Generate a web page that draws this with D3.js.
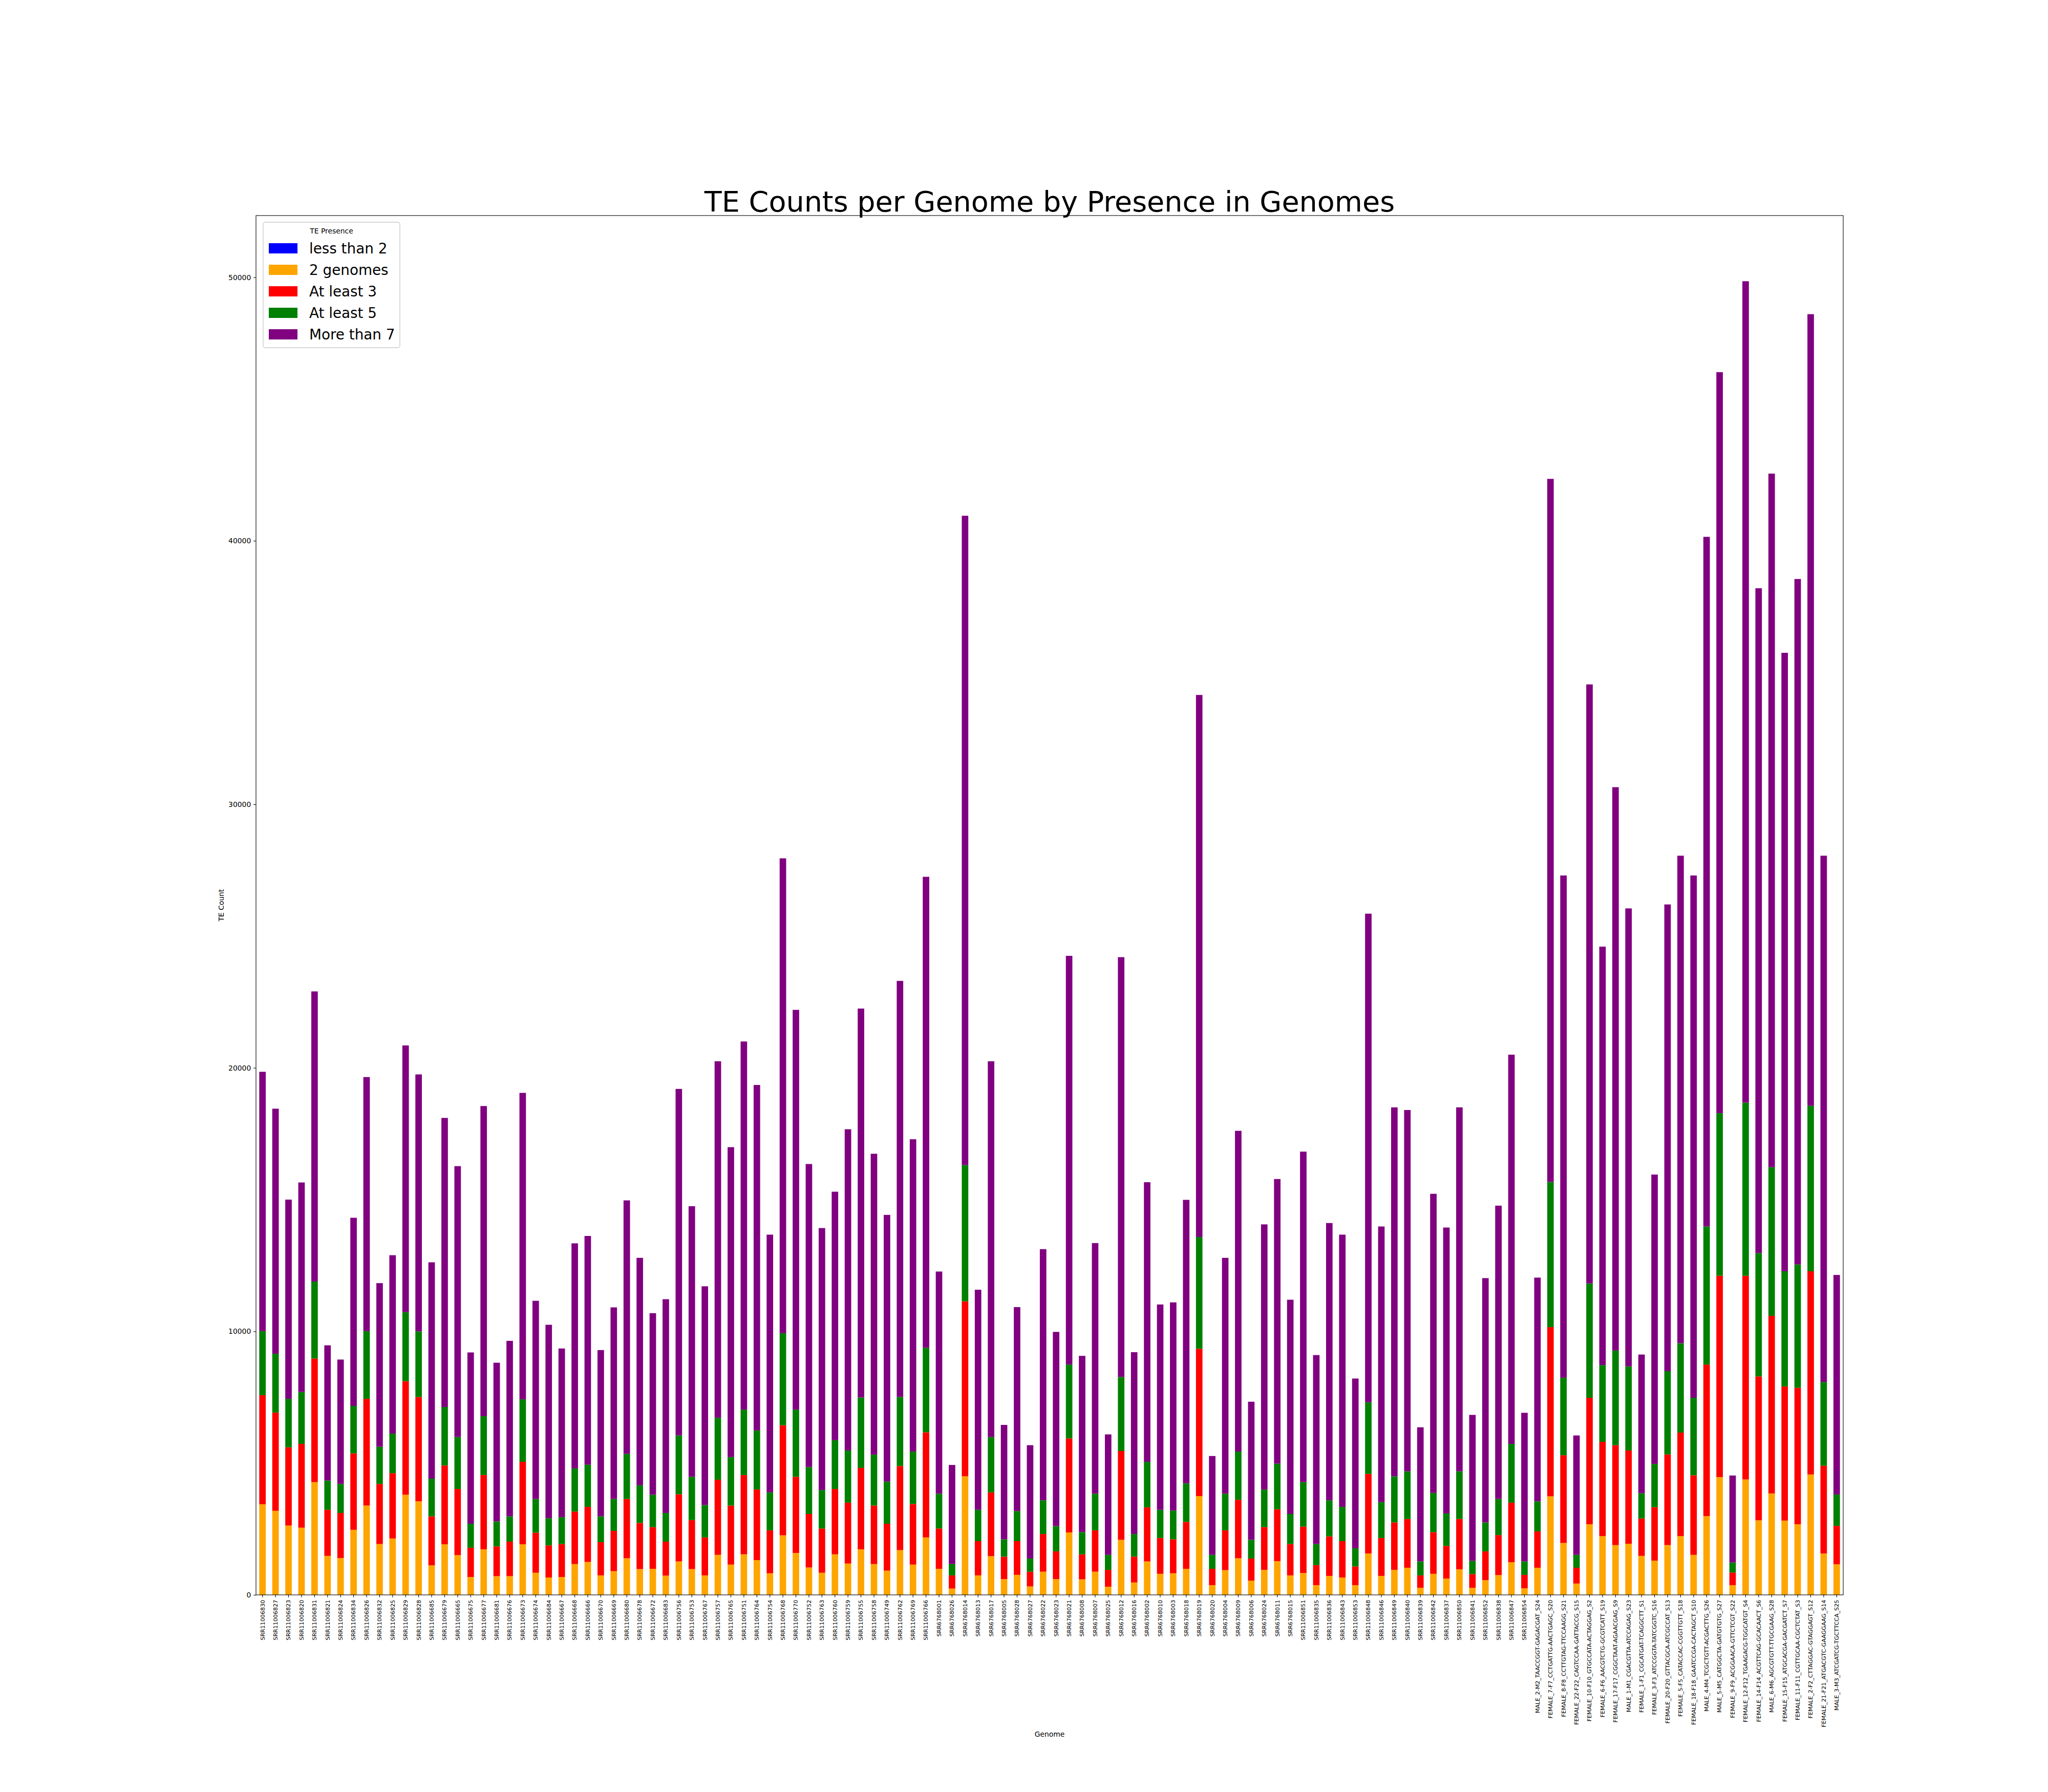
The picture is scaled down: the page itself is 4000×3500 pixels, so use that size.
<!DOCTYPE html>
<html>
<head>
<meta charset="utf-8">
<script src="https://cdn.jsdelivr.net/npm/d3@7"></script>
<style>
  body { margin: 0; background: #fff; }
  svg text { font-family: "DejaVu Sans", sans-serif; fill: #000; }
</style>
</head>
<body>
<svg id="chart"></svg>
<script>
/* Genomes in plotting order */
const genomes = [
  'SRR11006830', 'SRR11006827', 'SRR11006823', 'SRR11006820', 'SRR11006831', 'SRR11006821', 'SRR11006824', 'SRR11006834', 'SRR11006826', 'SRR11006832',
  'SRR11006825', 'SRR11006829', 'SRR11006828', 'SRR11006685', 'SRR11006679', 'SRR11006665', 'SRR11006675', 'SRR11006677', 'SRR11006681', 'SRR11006676',
  'SRR11006673', 'SRR11006674', 'SRR11006684', 'SRR11006667', 'SRR11006668', 'SRR11006666', 'SRR11006670', 'SRR11006669', 'SRR11006680', 'SRR11006678',
  'SRR11006672', 'SRR11006683', 'SRR11006756', 'SRR11006753', 'SRR11006767', 'SRR11006757', 'SRR11006765', 'SRR11006751', 'SRR11006764', 'SRR11006754',
  'SRR11006768', 'SRR11006770', 'SRR11006752', 'SRR11006763', 'SRR11006760', 'SRR11006759', 'SRR11006755', 'SRR11006758', 'SRR11006749', 'SRR11006762',
  'SRR11006769', 'SRR11006766', 'SRR6768001', 'SRR6768026', 'SRR6768014', 'SRR6768013', 'SRR6768017', 'SRR6768005', 'SRR6768028', 'SRR6768027',
  'SRR6768022', 'SRR6768023', 'SRR6768021', 'SRR6768008', 'SRR6768007', 'SRR6768025', 'SRR6768012', 'SRR6768016', 'SRR6768002', 'SRR6768010',
  'SRR6768003', 'SRR6768018', 'SRR6768019', 'SRR6768020', 'SRR6768004', 'SRR6768009', 'SRR6768006', 'SRR6768024', 'SRR6768011', 'SRR6768015',
  'SRR11006851', 'SRR11006835', 'SRR11006836', 'SRR11006843', 'SRR11006853', 'SRR11006848', 'SRR11006846', 'SRR11006849', 'SRR11006840', 'SRR11006839',
  'SRR11006842', 'SRR11006837', 'SRR11006850', 'SRR11006841', 'SRR11006852', 'SRR11006838', 'SRR11006847', 'SRR11006854',
  'MALE_2-M2_TAACCGGT-GAGACGAT_S24', 'FEMALE_7-F7_CCTGATTG-AACTGAGC_S20',
  'FEMALE_8-F8_CCTTGTAG-TTCCAAGG_S21', 'FEMALE_22-F22_CAGTCCAA-GATTACCG_S15', 'FEMALE_10-F10_GTGCCATA-ACTAGGAG_S2', 'FEMALE_6-F6_AACGTCTG-GCGTCATT_S19',
  'FEMALE_17-F17_CGGCTAAT-AGAACGAG_S9', 'MALE_1-M1_CGACGTTA-ATCCAGAG_S23', 'FEMALE_1-F1_CGCATGAT-TCAGGCTT_S1', 'FEMALE_3-F3_ATCCGGTA-TATCGGTC_S16',
  'FEMALE_20-F20_GTTACGCA-ATCGCCAT_S13', 'FEMALE_5-F5_CATACCAC-CGGTTGTT_S18', 'FEMALE_18-F18_GAATCCGA-CACTAGCT_S10', 'MALE_4-M4_TCGCTGTT-ACGACTTG_S26',
  'MALE_5-M5_CATGGCTA-GATGTGTG_S27', 'FEMALE_9-F9_ACGGAACA-GTTCTCGT_S22', 'FEMALE_12-F12_TGAAGACG-TGGCATGT_S4', 'FEMALE_14-F14_ACGTTCAG-GCACAACT_S6',
  'MALE_6-M6_AGCGTGTT-TTGCGAAG_S28', 'FEMALE_15-F15_ATGCACGA-GACGATCT_S7', 'FEMALE_11-F11_CGTTGCAA-CGCTCTAT_S3', 'FEMALE_2-F2_CTTAGGAC-GTAGGAGT_S12',
  'FEMALE_21-F21_ATGACGTC-GAAGGAAG_S14', 'MALE_3-M3_ATCGATCG-TGCTTCCA_S25'
];

/* TE counts per presence class (one value per genome) */
const lessThan2 = [
  0, 0, 0, 0, 0, 0, 0, 0, 0, 0,  0, 0, 0, 0, 0, 0, 0, 0, 0, 0,
  0, 0, 0, 0, 0, 0, 0, 0, 0, 0,  0, 0, 0, 0, 0, 0, 0, 0, 0, 0,
  0, 0, 0, 0, 0, 0, 0, 0, 0, 0,  0, 0, 0, 0, 0, 0, 0, 0, 0, 0,
  0, 0, 0, 0, 0, 0, 0, 0, 0, 0,  0, 0, 0, 0, 0, 0, 0, 0, 0, 0,
  0, 0, 0, 0, 0, 0, 0, 0, 0, 0,  0, 0, 0, 0, 0, 0, 0, 0, 0, 0,
  0, 0, 0, 0, 0, 0, 0, 0, 0, 0,  0, 0, 0, 0, 0, 0, 0, 0, 0, 0,
  0, 0
];
const twoGenomes = [
  3440, 3190, 2630, 2550, 4280, 1480, 1400, 2470, 3390, 1930,
  2140, 3800, 3550, 1120, 1920, 1510, 680, 1730, 710, 710,
  1920, 840, 660, 680, 1170, 1250, 740, 900, 1390, 980,
  990, 730, 1270, 980, 740, 1520, 1150, 1540, 1320, 820,
  2260, 1590, 1040, 840, 1540, 1190, 1730, 1170, 920, 1700,
  1150, 2180, 990, 240, 4500, 740, 1470, 600, 760, 320,
  880, 600, 2370, 590, 880, 310, 2090, 470, 1270, 800,
  820, 990, 3750, 370, 940, 1390, 540, 950, 1280, 740,
  830, 370, 720, 660, 370, 1570, 720, 950, 1030, 270,
  800, 620, 970, 270, 560, 750, 1240, 250, 1030, 3740,
  1970, 430, 2680, 2230, 1890, 1940, 1480, 1300, 1890, 2230,
  1520, 2990, 4470, 370, 4380, 2830, 3850, 2820, 2680, 4570,
  1570, 1160
];
const atLeast3 = [
  4140, 3730, 2970, 3180, 4690, 1750, 1710, 2900, 4050, 2280,
  2480, 4310, 3960, 1860, 2990, 2510, 1110, 2820, 1130, 1310,
  3130, 1520, 1220, 1250, 1990, 2090, 1260, 1530, 2250, 1750,
  1580, 1290, 2550, 1860, 1440, 2850, 2240, 3010, 2680, 1630,
  4180, 2890, 2030, 1680, 2480, 2310, 3090, 2220, 1780, 3190,
  2300, 3990, 1530, 500, 6640, 1300, 2420, 850, 1280, 560,
  1430, 1050, 3570, 950, 1570, 640, 3370, 980, 2050, 1360,
  1290, 1780, 5590, 620, 1510, 2220, 840, 1620, 1970, 1190,
  1760, 760, 1500, 1380, 710, 3020, 1440, 1800, 1850, 470,
  1580, 1240, 1910, 520, 1090, 1520, 2260, 510, 1380, 6420,
  3330, 600, 4800, 3580, 3790, 3540, 1420, 2030, 3440, 3930,
  3020, 5750, 7640, 480, 7730, 5460, 6740, 5090, 5180, 7710,
  3330, 1460
];
const atLeast5 = [
  2430, 2230, 1840, 1970, 2920, 1110, 1100, 1800, 2570, 1410,
  1500, 2620, 2490, 1430, 2220, 1970, 910, 2230, 950, 960,
  2370, 1280, 1030, 1020, 1640, 1600, 980, 1210, 1710, 1430,
  1230, 1090, 2230, 1640, 1230, 2350, 1840, 2480, 2240, 1440,
  3490, 2550, 1780, 1460, 1850, 1980, 2670, 1930, 1600, 2620,
  1990, 3210, 1320, 430, 5170, 1190, 2100, 660, 1140, 500,
  1280, 960, 2800, 840, 1390, 570, 2810, 860, 1730, 1070,
  1090, 1460, 4240, 530, 1390, 1830, 710, 1430, 1730, 1140,
  1690, 800, 1370, 1300, 690, 2720, 1360, 1750, 1810, 530,
  1490, 1230, 1810, 500, 1100, 1370, 2230, 510, 1140, 5510,
  2940, 490, 4340, 2910, 3590, 3190, 960, 1640, 3160, 3390,
  2940, 5240, 6170, 380, 6570, 4680, 5640, 4370, 4680, 6280,
  3180, 1190
];
const moreThan7 = [
  9840, 9300, 7560, 7950, 11010, 5130, 4720, 7140, 9640, 6210,
  6770, 10120, 9750, 8210, 10970, 10280, 6500, 11770, 6020, 6660,
  11630, 7520, 7340, 6400, 8540, 8680, 6310, 7270, 9620, 8630,
  6890, 8110, 13150, 10270, 8300, 13530, 11760, 13970, 13110, 9780,
  18020, 15170, 11500, 9940, 9430, 12190, 14760, 11420, 10120, 15790,
  11850, 17870, 8430, 3760, 24640, 8350, 14260, 4340, 7740, 4300,
  9530, 7370, 15510, 6690, 9510, 4570, 15930, 6900, 10610, 7790,
  7900, 10760, 20570, 3750, 8950, 12170, 5240, 10060, 10800, 8130,
  12540, 7170, 10520, 10330, 6440, 18540, 10460, 14000, 13710, 5090,
  11350, 10850, 13810, 5540, 9270, 11130, 14770, 5640, 8490, 26680,
  19060, 4530, 22730, 15880, 21380, 17380, 5260, 10980, 17710, 18500,
  19820, 26170, 28120, 3300, 31170, 25230, 26320, 23470, 26010, 30040,
  19970, 8330
];

/* Series keys, legend labels and colours */
const seriesKeys = ['lessThan2', 'twoGenomes', 'atLeast3', 'atLeast5', 'moreThan7'];
const seriesLabels = ['less than 2', '2 genomes', 'At least 3', 'At least 5', 'More than 7'];
const seriesColors = ['blue', 'orange', 'red', 'green', 'purple'];
const yTicks = [0, 10000, 20000, 30000, 40000, 50000];

/* Build table for d3.stack */
const table = genomes.map((g, i) => ({
  genome: g,
  lessThan2: lessThan2[i],
  twoGenomes: twoGenomes[i],
  atLeast3: atLeast3[i],
  atLeast5: atLeast5[i],
  moreThan7: moreThan7[i]
}));
const totals = table.map(d => seriesKeys.reduce((s, k) => s + d[k], 0));
const stacked = d3.stack().keys(seriesKeys)(table);

/* Figure and axes box */
const W = 4000, H = 3500;
const margin = { top: 421, right: 400, bottom: 385, left: 500 };
const plotW = W - margin.left - margin.right;
const plotH = H - margin.top - margin.bottom;
const tick = 4.86;

const svg = d3.select('#chart').attr('width', W).attr('height', H);
svg.append('rect').attr('width', W).attr('height', H).attr('fill', '#fff');

const g = svg.append('g').attr('transform', `translate(${margin.left},${margin.top})`);

const x = d3.scaleBand()
  .domain(genomes)
  .range([0, plotW])
  .paddingInner(0.5)
  .paddingOuter(0.25);

const y = d3.scaleLinear()
  .domain([0, d3.max(totals) * 1.05])
  .range([plotH, 0]);

/* Stacked bars */
g.append('g')
  .selectAll('g')
  .data(stacked)
  .join('g')
  .attr('fill', (d, i) => seriesColors[i])
  .selectAll('rect')
  .data(d => d)
  .join('rect')
  .attr('x', d => x(d.data.genome))
  .attr('y', d => y(d[1]))
  .attr('width', x.bandwidth())
  .attr('height', d => y(d[0]) - y(d[1]));

/* X axis with rotated genome labels */
const xAxis = g.append('g')
  .attr('transform', `translate(0,${plotH})`)
  .call(d3.axisBottom(x).tickSize(tick).tickSizeOuter(0));
xAxis.select('.domain').remove();
xAxis.selectAll('line').attr('stroke', '#000').attr('stroke-width', 1.1);
xAxis.selectAll('text')
  .attr('font-size', 11.1)
  .attr('font-family', '"DejaVu Sans", sans-serif')
  .attr('transform', 'rotate(-90)')
  .attr('x', -(tick + 4.86))
  .attr('y', 0)
  .attr('dy', '0.35em')
  .style('text-anchor', 'end');

/* Y axis */
const yAxis = g.append('g')
  .call(d3.axisLeft(y).tickValues(yTicks).tickFormat(d3.format('d')).tickSize(tick).tickPadding(4.86));
yAxis.select('.domain').remove();
yAxis.selectAll('line').attr('stroke', '#000').attr('stroke-width', 1.1);
yAxis.selectAll('text')
  .attr('font-size', 13.9)
  .attr('font-family', '"DejaVu Sans", sans-serif');

/* Axes frame */
g.append('rect')
  .attr('width', plotW)
  .attr('height', plotH)
  .attr('fill', 'none')
  .attr('stroke', '#000')
  .attr('stroke-width', 1.1);

/* Title and axis labels */
svg.append('text')
  .attr('x', margin.left + plotW / 2)
  .attr('y', margin.top - 8.5)
  .attr('text-anchor', 'middle')
  .attr('font-size', 55.6)
  .text('TE Counts per Genome by Presence in Genomes');

svg.append('text')
  .attr('x', margin.left + plotW / 2)
  .attr('y', 3392)
  .attr('text-anchor', 'middle')
  .attr('font-size', 13.9)
  .text('Genome');

svg.append('text')
  .attr('transform', `translate(437,${margin.top + plotH / 2}) rotate(-90)`)
  .attr('text-anchor', 'middle')
  .attr('font-size', 13.9)
  .text('TE Count');

/* Legend */
const legend = svg.append('g').attr('transform', 'translate(514,434)');
legend.append('rect')
  .attr('width', 267)
  .attr('height', 245)
  .attr('rx', 4)
  .attr('fill', '#fff')
  .attr('fill-opacity', 0.8)
  .attr('stroke', '#cccccc')
  .attr('stroke-width', 1.4);
legend.append('text')
  .attr('x', 133.5)
  .attr('y', 22)
  .attr('text-anchor', 'middle')
  .attr('font-size', 13.9)
  .text('TE Presence');

const rows = legend.selectAll('g.row')
  .data(seriesLabels)
  .join('g')
  .attr('class', 'row')
  .attr('transform', (d, i) => `translate(0,${51 + i * 42})`);
rows.append('rect')
  .attr('x', 11)
  .attr('y', -10)
  .attr('width', 56)
  .attr('height', 20)
  .attr('fill', (d, i) => seriesColors[i]);
rows.append('text')
  .attr('x', 90)
  .attr('y', 10)
  .attr('font-size', 27.8)
  .text(d => d);
</script>
</body>
</html>
